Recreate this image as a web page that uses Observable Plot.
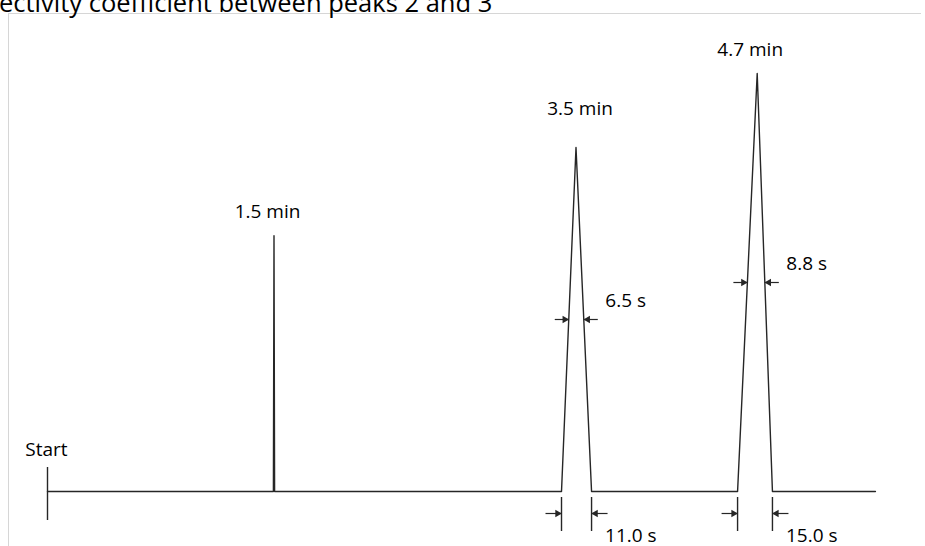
<!DOCTYPE html>
<html><head><meta charset="utf-8">
<script src="https://cdn.jsdelivr.net/npm/d3@7"></script>
<script src="https://cdn.jsdelivr.net/npm/@observablehq/plot@0.6"></script>
<style>
body{margin:0;background:#fff;}
#wrap{position:relative;width:925px;height:546px;overflow:hidden;font-family:"Open Sans",sans-serif;color:#000}
#title{position:absolute;left:-1px;top:-10px;font-size:25.5px;line-height:1;white-space:nowrap}
#frame{position:absolute;left:8px;top:13px;width:912px;height:540px;border-left:1px solid #d6d6d6;border-top:1px solid #d6d6d6}
#chart{position:absolute;left:0;top:0}
</style></head><body>
<div id="wrap"><div id="frame"></div><div id="title">ectivity coefficient between peaks 2 and 3</div><div id="chart"></div></div>
<script>
// ---- data ----
const peakLabels = ["1.5 min", "3.5 min", "4.7 min"];
const peakTimes = [1.5, 3.5, 4.7];          // retention time, min
const peakHeights = [61.2, 82.3, 100];       // relative signal
const peakStart = [1.496, 3.404, 4.570];     // where each peak leaves the baseline, min
const peakEnd = [1.504, 3.603, 4.801];       // where each peak returns to the baseline, min
const halfWidthLabels = ["", "6.5 s", "8.8 s"];
const baseWidthLabels = ["", "11.0 s", "15.0 s"];
const runEnd = 5.483;                        // end of the recorded trace, min
const startLabel = "Start";

// ---- layout ----
const W = 925, H = 546;
const mL = 47, mR = 47.5, mT = 73, mB = 55;
const xDomain = [0, 5.5], yDomain = [0, 100];
const ppm = (W - mL - mR) / (xDomain[1] - xDomain[0]);  // px per minute
const ppu = (H - mT - mB) / (yDomain[1] - yDomain[0]);  // px per signal unit
const px = p => p / ppm, py = p => p / ppu;
const ink = "#262626";

// trace built from the peak table
const trace = [{t: 0, s: 0}];
peakTimes.forEach((t, i) => {
  trace.push({t: peakStart[i], s: 0}, {t, s: peakHeights[i]}, {t: peakEnd[i], s: 0});
});
trace.push({t: runEnd, s: 0});

const peakRows = peakTimes.map((t, i) => ({i, t, h: peakHeights[i], label: peakLabels[i]}));
const labelLift = [23.5, 38.5, 24];   // px above apex
const labelShift = [-6.5, 4, -7];     // px horizontal

const annotated = [1, 2];
const halfRows = annotated.map(i => ({
  i, y: peakHeights[i] / 2,
  left: (peakStart[i] + peakTimes[i]) / 2,
  right: (peakTimes[i] + peakEnd[i]) / 2,
  label: halfWidthLabels[i]
}));
const baseRows = annotated.map(i => ({i, left: peakStart[i], right: peakEnd[i], label: baseWidthLabels[i]}));

const baseArrowY = -py(22);
const halfShafts = halfRows.flatMap(d => [
  {x1: d.left - px(14), x2: d.left, y: d.y},
  {x1: d.right + px(14), x2: d.right, y: d.y}
]);
const halfHeads = halfRows.flatMap(d => [
  {x: d.left, y: d.y, dir: 1},
  {x: d.right, y: d.y, dir: -1}
]);
const baseShafts = baseRows.flatMap(d => [
  {x1: d.left - px(16), x2: d.left, y: baseArrowY},
  {x1: d.right + px(16), x2: d.right, y: baseArrowY}
]);
const baseHeads = baseRows.flatMap(d => [
  {x: d.left, y: baseArrowY, dir: 1},
  {x: d.right, y: baseArrowY, dir: -1}
]);
const tip = 4;

const chart = Plot.plot({
  width: W, height: H,
  marginLeft: mL, marginRight: mR, marginTop: mT, marginBottom: mB,
  x: {domain: xDomain, axis: null},
  y: {domain: yDomain, axis: null},
  style: {background: "transparent", overflow: "visible", fontFamily: "'Open Sans', sans-serif", color: "#000"},
  marks: [
    // start marker
    Plot.ruleX([0], {x: d => d, y1: py(24), y2: -py(29), stroke: ink, strokeWidth: 1.4}),
    Plot.text([startLabel], {x: 0, y: py(41.5), text: d => d, fontSize: 19, dx: -1, fill: "#000"}),
    // chromatogram
    Plot.line(trace, {x: "t", y: "s", stroke: ink, strokeWidth: 1.4, strokeLinejoin: "round"}),
    // peak labels
    Plot.text(peakRows, {
      x: d => d.t + px(labelShift[d.i]), y: d => d.h + py(labelLift[d.i]),
      text: "label", fontSize: 19, fill: "#000"
    }),
    // half-height width arrows
    Plot.link(halfShafts, {x1: "x1", x2: "x2", y1: "y", y2: "y", stroke: ink, strokeWidth: 1.2}),
    Plot.dot(halfHeads, {
      x: d => d.x - d.dir * px(tip), y: "y", symbol: "triangle", r: 2.8,
      rotate: d => d.dir > 0 ? 90 : -90, fill: ink, stroke: "none"
    }),
    Plot.text(halfRows, {
      x: d => d.right + px(21.5), y: d => d.y + py(19), text: "label",
      textAnchor: "start", fontSize: 19, fill: "#000"
    }),
    // base width ticks and arrows
    Plot.ruleX(baseRows.flatMap(d => [d.left, d.right]), {x: d => d, y1: -py(6), y2: -py(40), stroke: ink, strokeWidth: 1.4}),
    Plot.link(baseShafts, {x1: "x1", x2: "x2", y1: "y", y2: "y", stroke: ink, strokeWidth: 1.2}),
    Plot.dot(baseHeads, {
      x: d => d.x - d.dir * px(tip), y: "y", symbol: "triangle", r: 2.8,
      rotate: d => d.dir > 0 ? 90 : -90, fill: ink, stroke: "none"
    }),
    Plot.text(baseRows, {
      x: d => d.right + px(13.5), y: baseArrowY - py(22), text: "label",
      textAnchor: "start", fontSize: 19, fill: "#000"
    })
  ]
});
document.getElementById("chart").appendChild(chart);
</script>
</body></html>
